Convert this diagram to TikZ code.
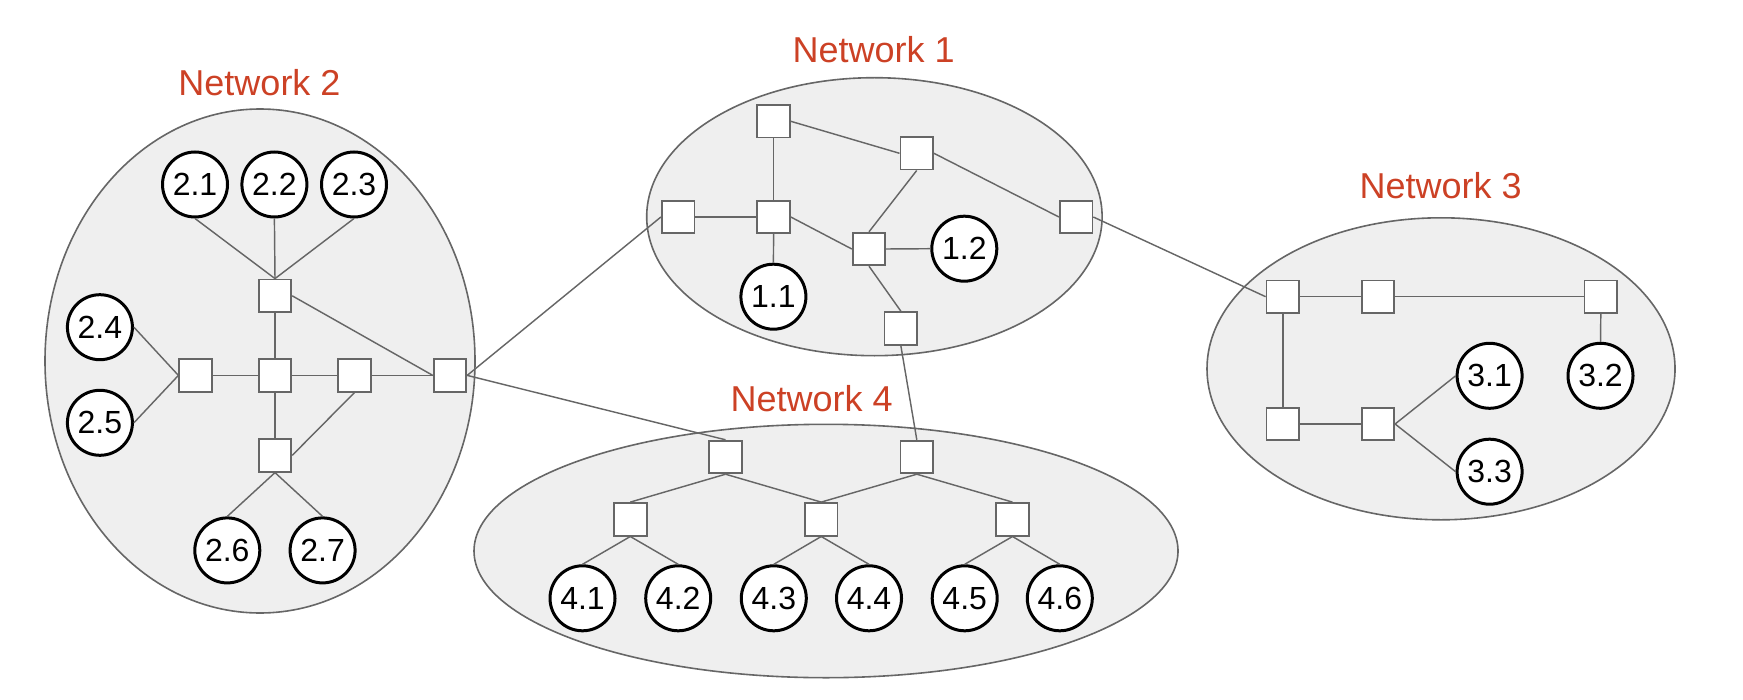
\documentclass[tikz,border=0pt]{standalone}
\usepackage{fontspec}
\setmainfont{Liberation Sans}
\definecolor{netred}{HTML}{CC4125}
\definecolor{edgegray}{HTML}{666666}
\definecolor{zonefill}{HTML}{EFEFEF}
\begin{document}
\begin{tikzpicture}[x=0.5pt,y=-0.5pt,
  zone/.style={draw=edgegray,fill=zonefill,line width=0.8pt},
  switchbox/.style={rectangle,draw=edgegray,fill=white,line width=0.9pt,minimum size=16.3pt,inner sep=0pt},
  host/.style={circle,draw=black,fill=white,line width=1.5pt,minimum size=32.5pt,inner sep=0pt,
    font=\fontsize{16pt}{18pt}\selectfont},
  netlabel/.style={text=netred,inner sep=0pt,font=\fontsize{18pt}{20pt}\selectfont},
  link/.style={draw=edgegray,line width=0.72pt}]
\useasboundingbox (0,0) rectangle (1743,700);

% network zones
\fill[zone] (260,361) ellipse [x radius=107.5pt, y radius=126pt];
\fill[zone] (874.4,216.7) ellipse [x radius=113.85pt, y radius=69.5pt];
\fill[zone] (1441,368.8) ellipse [x radius=117pt, y radius=75.5pt];
\fill[zone] (826,551) ellipse [x radius=176pt, y radius=63.35pt];

% zone titles
\node[netlabel] (lab1) at (873.6,50) {Network 1};
\node[netlabel] (lab2) at (259.5,82.6) {Network 2};
\node[netlabel] (lab3) at (1440.7,186) {Network 3};
\node[netlabel] (lab4) at (811.6,398.3) {Network 4};

% network 2
\node[switchbox] (s2t) at (275,295.8) {};
\node[switchbox] (s2l) at (195.6,375.4) {};
\node[switchbox] (s2c) at (275,375.4) {};
\node[switchbox] (s2r) at (354.4,375.4) {};
\node[switchbox] (s2x) at (450,375.4) {};
\node[switchbox] (s2b) at (275,455.4) {};
\node[host] (c21) at (195,184.5) {2.1};
\node[host] (c22) at (274.4,184.5) {2.2};
\node[host] (c23) at (354,184.5) {2.3};
\node[host] (c24) at (99.9,327.2) {2.4};
\node[host] (c25) at (99.9,422.8) {2.5};
\node[host] (c26) at (227.3,550.4) {2.6};
\node[host] (c27) at (322.6,550.4) {2.7};

% network 1
\node[switchbox] (s1a) at (773.6,121.3) {};
\node[switchbox] (s1b) at (916.7,153.3) {};
\node[switchbox] (s1c) at (678.1,217) {};
\node[switchbox] (s1d) at (773.6,217) {};
\node[switchbox] (s1e) at (1076.1,217) {};
\node[switchbox] (s1f) at (869,249) {};
\node[switchbox] (s1g) at (900.8,328.3) {};
\node[host] (c11) at (773.4,296.7) {1.1};
\node[host] (c12) at (964.3,248.7) {1.2};

% network 3
\node[switchbox] (s3a) at (1282.8,296.7) {};
\node[switchbox] (s3b) at (1377.9,296.7) {};
\node[switchbox] (s3c) at (1600.8,296.7) {};
\node[switchbox] (s3d) at (1282.8,424) {};
\node[switchbox] (s3e) at (1377.9,424) {};
\node[host] (c31) at (1489.6,375.8) {3.1};
\node[host] (c32) at (1600.5,375.8) {3.2};
\node[host] (c33) at (1489.6,471.7) {3.3};

% network 4
\node[switchbox] (s4a) at (725.5,457) {};
\node[switchbox] (s4b) at (916.8,457) {};
\node[switchbox] (s4c) at (630.3,519.3) {};
\node[switchbox] (s4d) at (821.2,519.3) {};
\node[switchbox] (s4e) at (1012.5,519.3) {};
\node[host] (c41) at (582.5,598.3) {4.1};
\node[host] (c42) at (678.2,598.3) {4.2};
\node[host] (c43) at (773.8,598.3) {4.3};
\node[host] (c44) at (869,598.3) {4.4};
\node[host] (c45) at (964.7,598.3) {4.5};
\node[host] (c46) at (1059.8,598.3) {4.6};

% links inside network 2
\path[link] (c21.south) -- (s2t.north);
\path[link] (c22.south) -- (s2t.north);
\path[link] (c23.south) -- (s2t.north);
\path[link] (s2t.south) -- (s2c.north);
\path[link] (s2c.south) -- (s2b.north);
\path[link] (s2l.east) -- (s2c.west);
\path[link] (s2c.east) -- (s2r.west);
\path[link] (s2r.east) -- (s2x.west);
\path[link] (s2t.east) -- (s2x.west);
\path[link] (c24.east) -- (s2l.west);
\path[link] (c25.east) -- (s2l.west);
\path[link] (s2b.east) -- (s2r.south);
\path[link] (s2b.south) -- (c26.north);
\path[link] (s2b.south) -- (c27.north);

% links inside network 1
\path[link] (s1a.south) -- (s1d.north);
\path[link] (s1a.east) -- (s1b.west);
\path[link] (s1b.east) -- (s1e.west);
\path[link] (s1b.south) -- (s1f.north);
\path[link] (s1c.east) -- (s1d.west);
\path[link] (s1d.east) -- (s1f.west);
\path[link] (s1d.south) -- (c11.north);
\path[link] (s1f.east) -- (c12.west);
\path[link] (s1f.south) -- (s1g.north);

% links inside network 3
\path[link] (s3a.east) -- (s3b.west);
\path[link] (s3b.east) -- (s3c.west);
\path[link] (s3a.south) -- (s3d.north);
\path[link] (s3d.east) -- (s3e.west);
\path[link] (s3c.south) -- (c32.north);
\path[link] (s3e.east) -- (c31.west);
\path[link] (s3e.east) -- (c33.west);

% links inside network 4
\path[link] (s4a.south) -- (s4c.north);
\path[link] (s4a.south) -- (s4d.north);
\path[link] (s4b.south) -- (s4d.north);
\path[link] (s4b.south) -- (s4e.north);
\path[link] (s4c.south) -- (c41.north);
\path[link] (s4c.south) -- (c42.north);
\path[link] (s4d.south) -- (c43.north);
\path[link] (s4d.south) -- (c44.north);
\path[link] (s4e.south) -- (c45.north);
\path[link] (s4e.south) -- (c46.north);

% links between networks
\path[link] (s2x.east) -- (s1c.west);
\path[link] (s2x.east) -- (s4a.north);
\path[link] (s1g.south) -- (s4b.north);
\path[link] (s1e.east) -- (s3a.west);
\end{tikzpicture}
\end{document}
